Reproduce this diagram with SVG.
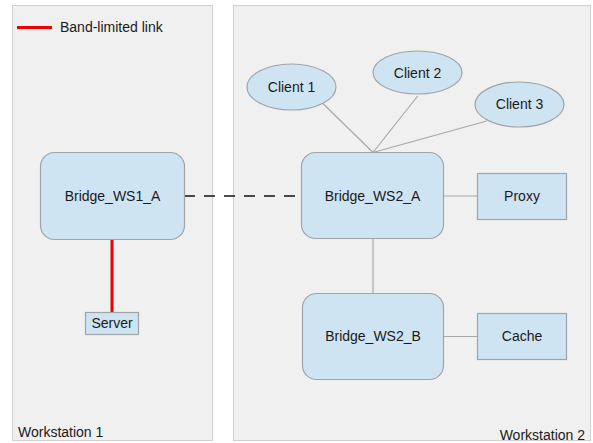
<svg xmlns="http://www.w3.org/2000/svg" width="593" height="443" viewBox="0 0 593 443">
  <style>
    text { font-family: "Liberation Sans", Arial, sans-serif; font-size: 14px; fill: #1a1a1a; }
    .ws { fill: #f0f0f0; stroke: #a8a8a8; stroke-width: 1; stroke-dasharray: 1 1; }
    .node { fill: #cfe4f3; stroke: #a0a4a8; stroke-width: 1.2; }
    .link { stroke: #a8a8a8; stroke-width: 1.2; fill: none; }
    .mid { text-anchor: middle; }
  </style>
  <rect width="593" height="443" fill="#ffffff"/>

  <!-- workstation areas -->
  <g id="workstation1">
    <rect class="ws" x="12.5" y="5.5" width="200" height="435"/>
    <text x="18" y="437">Workstation 1</text>
  </g>
  <g id="workstation2">
    <rect class="ws" x="233.5" y="5.5" width="357" height="435"/>
    <text x="585" y="440" text-anchor="end">Workstation 2</text>
  </g>

  <!-- legend -->
  <g id="legend">
    <line x1="17" y1="27.5" x2="52" y2="27.5" stroke="#ee0000" stroke-width="3"/>
    <text x="60" y="32">Band-limited link</text>
  </g>

  <!-- connectors -->
  <g id="connectors">
    <line x1="112" y1="239" x2="112" y2="312" stroke="#ee0000" stroke-width="3"/>
    <line x1="184" y1="196" x2="302" y2="196" stroke="#111111" stroke-width="1.5" stroke-dasharray="11 9"/>
    <line class="link" x1="322.7" y1="103.3" x2="373" y2="152.5"/>
    <line class="link" x1="417.7" y1="96" x2="373" y2="152.5"/>
    <line class="link" x1="486.7" y1="121" x2="373" y2="152.5"/>
    <line class="link" x1="444" y1="196" x2="477" y2="196"/>
    <line class="link" x1="373" y1="239" x2="373" y2="293"/>
    <line class="link" x1="444" y1="336.5" x2="477" y2="336.5"/>
  </g>

  <!-- nodes -->
  <g id="bridge-ws1-a">
    <rect class="node" x="40.5" y="152.5" width="144" height="87" rx="14"/>
    <text class="mid" x="112.5" y="201">Bridge_WS1_A</text>
  </g>
  <g id="server">
    <rect class="node" x="85.5" y="312.5" width="53" height="22"/>
    <text class="mid" x="112" y="328">Server</text>
  </g>
  <g id="client1">
    <ellipse class="node" cx="291.5" cy="87" rx="44.5" ry="23"/>
    <text class="mid" x="291.5" y="92">Client 1</text>
  </g>
  <g id="client2">
    <ellipse class="node" cx="417.5" cy="72.5" rx="44.5" ry="21.5"/>
    <text class="mid" x="417.5" y="78">Client 2</text>
  </g>
  <g id="client3">
    <ellipse class="node" cx="519.5" cy="104.5" rx="44.5" ry="22.5"/>
    <text class="mid" x="519.5" y="109">Client 3</text>
  </g>
  <g id="bridge-ws2-a">
    <rect class="node" x="301.5" y="152.5" width="142" height="86" rx="14"/>
    <text class="mid" x="372.5" y="201">Bridge_WS2_A</text>
  </g>
  <g id="proxy">
    <rect class="node" x="477.5" y="173.5" width="89" height="46"/>
    <text class="mid" x="522" y="201">Proxy</text>
  </g>
  <g id="bridge-ws2-b">
    <rect class="node" x="302.5" y="293.5" width="141" height="86" rx="14"/>
    <text class="mid" x="373" y="341">Bridge_WS2_B</text>
  </g>
  <g id="cache">
    <rect class="node" x="477.5" y="313.5" width="89" height="46"/>
    <text class="mid" x="522" y="341">Cache</text>
  </g>
</svg>
